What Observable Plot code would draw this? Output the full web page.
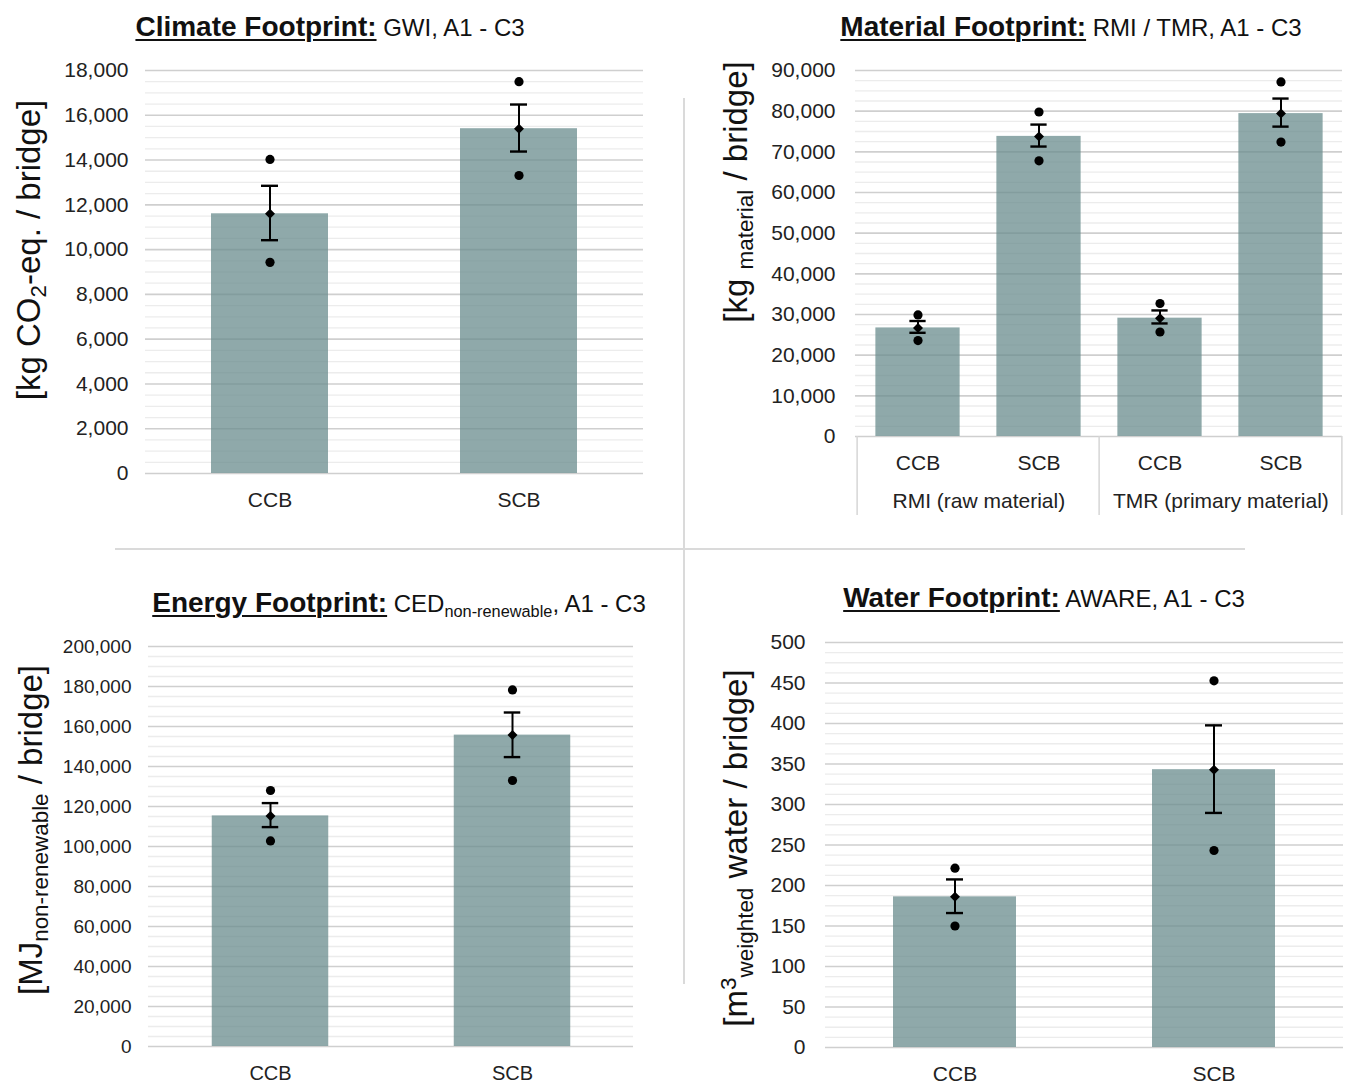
<!DOCTYPE html>
<html><head><meta charset="utf-8">
<script src="https://cdn.jsdelivr.net/npm/d3@7"></script>
<script src="https://cdn.jsdelivr.net/npm/@observablehq/plot@0.6"></script>
<style>
body{margin:0;background:#fff;font-family:"Liberation Sans",Arial,sans-serif;}
#root{position:relative;width:1348px;height:1084px;overflow:hidden;background:#fff}
.panel{position:absolute}
.title{position:absolute;width:640px;text-align:center;white-space:nowrap;color:#111;line-height:1}
.title b{font-size:28px;text-decoration:underline;text-decoration-thickness:2px;text-underline-offset:3px}
.title span{font-size:24px}
.ylab{position:absolute;white-space:nowrap;font-size:33px;transform:translate(-50%,-50%) rotate(-90deg);color:#111;line-height:1}
sub{font-size:0.68em;vertical-align:-0.3em;line-height:0}
sup{font-size:0.68em;vertical-align:0.45em;line-height:0}
.sep{position:absolute;background:#dadada}
</style>
</head><body>
<div id="root">
  <div class="sep" style="left:115px;top:548px;width:1130px;height:2px"></div>
  <div class="sep" style="left:683px;top:98px;width:2px;height:886px"></div>

  <div class="title" style="left:10px;top:13px"><b>Climate Footprint:</b><span> GWI, A1 - C3</span></div>
  <div class="title" style="left:751px;top:13px"><b>Material Footprint:</b><span> RMI / TMR, A1 - C3</span></div>
  <div class="title" style="left:79px;top:589px"><b>Energy Footprint:</b><span> CED<sub>non-renewable</sub>, A1 - C3</span></div>
  <div class="title" style="left:724px;top:584px"><b>Water Footprint:</b><span> AWARE, A1 - C3</span></div>

  <div class="ylab" style="left:28px;top:250px">[kg CO<sub>2</sub>-eq. / bridge]</div>
  <div class="ylab" style="left:735px;top:192px">[kg <sub>material</sub> / bridge]</div>
  <div class="ylab" style="left:30px;top:830px">[MJ<sub>non-renewable</sub> / bridge]</div>
  <div class="ylab" style="left:735px;top:848px">[m<sup>3</sup><sub>weighted</sub> water / bridge]</div>

  <div class="panel" id="p1" style="left:0px;top:50px"></div>
  <div class="panel" id="p2" style="left:690px;top:50px"></div>
  <div class="panel" id="p3" style="left:0px;top:626px"></div>
  <div class="panel" id="p4" style="left:690px;top:622px"></div>
</div>
<script>
// ---------- DATA ----------
const bridges = ["CCB", "SCB"];

// Climate footprint (kg CO2-eq. / bridge)
const climateMean = [11600, 15400];
const climateErrLow = [10420, 14380];
const climateErrHigh = [12850, 16480];
const climateMin = [9430, 13310];
const climateMax = [14030, 17500];
const climateTicks = [0, 2000, 4000, 6000, 8000, 10000, 12000, 14000, 16000, 18000];

// Material footprint (kg material / bridge)
const materialGroups = ["RMI (raw material)", "TMR (primary material)"];
const materialKeys = ["RMI|CCB", "RMI|SCB", "TMR|CCB", "TMR|SCB"];
const materialMean = [26700, 73800, 29100, 79400];
const materialErrLow = [25500, 71300, 27800, 76200];
const materialErrHigh = [28400, 76700, 31000, 83100];
const materialMin = [23600, 67800, 25700, 72400];
const materialMax = [29900, 79800, 32700, 87200];
const materialTicks = [0, 10000, 20000, 30000, 40000, 50000, 60000, 70000, 80000, 90000];

// Energy footprint (MJ non-renewable / bridge)
const energyMean = [115300, 155700];
const energyErrLow = [109700, 144700];
const energyErrHigh = [121700, 167000];
const energyMin = [102800, 133000];
const energyMax = [128000, 178300];
const energyTicks = [0, 20000, 40000, 60000, 80000, 100000, 120000, 140000, 160000, 180000, 200000];

// Water footprint (m3 weighted water / bridge)
const waterMean = [186, 343];
const waterErrLow = [166, 289.6];
const waterErrHigh = [207.5, 397.7];
const waterMin = [150, 243.2];
const waterMax = [221.4, 452.7];
const waterTicks = [0, 50, 100, 150, 200, 250, 300, 350, 400, 450, 500];

// ---------- DRAW ----------
const FONT = '"Liberation Sans", Arial, sans-serif';
function rowsOf(keys, mean, lo, hi, mn, mx) {
  return keys.map((k, i) => ({k, mean: mean[i], lo: lo[i], hi: hi[i], min: mn[i], max: mx[i]}));
}
function minorTicks(ticks, sub) {
  const out = [];
  for (let i = 0; i < ticks.length - 1; i++) {
    const a = ticks[i], b = ticks[i + 1];
    for (let j = 1; j < sub; j++) out.push(a + (b - a) * j / sub);
  }
  return out;
}
function makePanel(o) {
  const plotW = o.width - o.mL - o.mR;
  const step = plotW / o.keys.length;
  const inset = (step - o.barW) / 2;
  const capInset = (step - 17) / 2;
  const rows = rowsOf(o.keys, o.mean, o.lo, o.hi, o.min, o.max);
  const marks = [
    Plot.ruleY(minorTicks(o.ticks, 4), {stroke: "#ececec", strokeWidth: 1.3}),
    Plot.ruleY(o.ticks, {stroke: "#cfcfcf", strokeWidth: 1.6}),
    Plot.barY(rows, {x: "k", y: "mean", fill: "#6a8c8d", fillOpacity: 0.75, insetLeft: inset, insetRight: inset}),
    Plot.ruleX(rows, {x: "k", y1: "lo", y2: "hi", stroke: "#000", strokeWidth: 2}),
    Plot.tickY(rows, {x: "k", y: "hi", stroke: "#000", strokeWidth: 2.4, insetLeft: capInset, insetRight: capInset}),
    Plot.tickY(rows, {x: "k", y: "lo", stroke: "#000", strokeWidth: 2.4, insetLeft: capInset, insetRight: capInset}),
    Plot.dot(rows, {x: "k", y: "max", r: 4.6, fill: "#000"}),
    Plot.dot(rows, {x: "k", y: "min", r: 4.6, fill: "#000"}),
    Plot.dot(rows, {x: "k", y: "mean", r: 4.5, symbol: "diamond2", fill: "#000"})
  ];
  if (o.extra) marks.push(...o.extra(step, o.height - o.mT - o.mB));
  const chart = Plot.plot({
    width: o.width, height: o.height,
    marginLeft: o.mL, marginRight: o.mR, marginTop: o.mT, marginBottom: o.mB,
    style: {fontFamily: FONT, fontSize: o.tickFont + "px", color: "#222", background: "transparent", overflow: "visible"},
    x: {domain: o.keys, padding: 0, tickSize: 0, tickPadding: 19, label: null, tickFormat: o.xFormat || (d => d)},
    y: {domain: [0, o.ticks[o.ticks.length - 1]], ticks: o.ticks, tickSize: 0, tickPadding: o.yPad, tickFormat: d3.format(","), label: null},
    marks
  });
  if (o.catFont) chart.querySelectorAll('[aria-label="x-axis"] text, g[aria-label="x-axis tick label"] text').forEach(t => t.style.fontSize = o.catFont + "px");
  document.getElementById(o.id).appendChild(chart);
}

makePanel({id: "p1", keys: bridges, mean: climateMean, lo: climateErrLow, hi: climateErrHigh, min: climateMin, max: climateMax,
  ticks: climateTicks, width: 660, height: 468, mL: 145, mR: 17, mT: 20, mB: 45, barW: 117, tickFont: 21, yPad: 17});

makePanel({id: "p2", keys: materialKeys, mean: materialMean, lo: materialErrLow, hi: materialErrHigh, min: materialMin, max: materialMax,
  ticks: materialTicks, width: 658, height: 466, mL: 165, mR: 6, mT: 20, mB: 80, barW: 85, tickFont: 21, yPad: 20,
  xFormat: d => d.split("|")[1],
  extra: (step, plotH) => [
    Plot.text(materialGroups, {x: (d, i) => materialKeys[i * 2], text: d => d, dx: step / 2, frameAnchor: "bottom", dy: 71, fill: "#222"}),
    Plot.ruleX([materialKeys[0], materialKeys[2]], {dx: -step / 2, insetTop: plotH, insetBottom: -79, stroke: "#d6d6d6", strokeWidth: 1.5}),
    Plot.ruleX([materialKeys[3]], {dx: step / 2, insetTop: plotH, insetBottom: -79, stroke: "#d6d6d6", strokeWidth: 1.5})
  ]});

makePanel({id: "p3", keys: bridges, mean: energyMean, lo: energyErrLow, hi: energyErrHigh, min: energyMin, max: energyMax,
  ticks: energyTicks, width: 650, height: 465, mL: 148, mR: 17, mT: 20, mB: 45, barW: 117, tickFont: 19, yPad: 17, catFont: 20});

makePanel({id: "p4", keys: bridges, mean: waterMean, lo: waterErrLow, hi: waterErrHigh, min: waterMin, max: waterMax,
  ticks: waterTicks, width: 658, height: 470, mL: 135, mR: 5, mT: 20, mB: 45, barW: 123, tickFont: 21, yPad: 20});
</script>
</body></html>
